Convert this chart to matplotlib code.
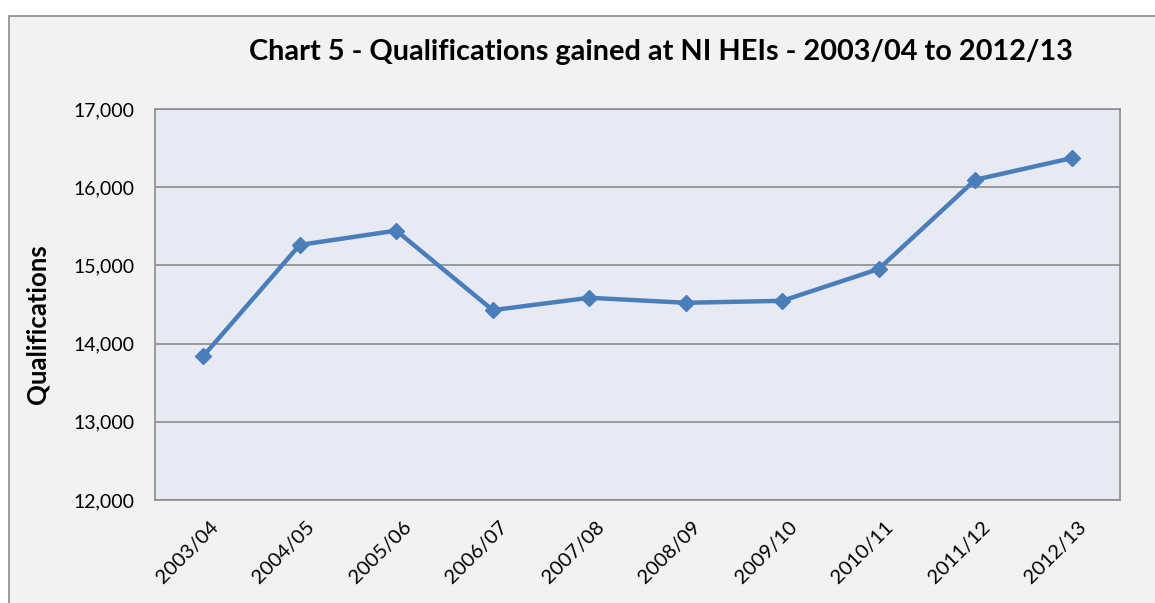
import matplotlib.pyplot as plt
import matplotlib.transforms as mtransforms
from matplotlib.patches import Rectangle
from matplotlib.ticker import FuncFormatter

years = ['2003/04', '2004/05', '2005/06', '2006/07', '2007/08',
         '2008/09', '2009/10', '2010/11', '2011/12', '2012/13']
qualifications = [13840, 15262, 15445, 14428, 14586, 14522, 14547, 14954, 16095, 16372]
yticks = [12000, 13000, 14000, 15000, 16000, 17000]

plt.rcParams['font.family'] = ['Lato', 'DejaVu Sans']

fig = plt.figure(figsize=(11.55, 6.03), dpi=100)
fig.patch.set_facecolor('white')
# outer chart frame
fig.patches.append(Rectangle((9 / 1155, -0.05), 1.2, 1 - 16 / 603 + 0.05,
                             transform=fig.transFigure, facecolor='#f2f2f2',
                             edgecolor='#8c8c8c', linewidth=1.2, zorder=-10))

ax = fig.add_axes([155 / 1155, 1 - 500 / 603, 965 / 1155, 391 / 603])
ax.set_facecolor('#e7eaf2')
x = range(len(years))
ax.plot(x, qualifications, color='#4a7ebb', linewidth=3.2, marker='D', markersize=8.5, zorder=3)

ax.set_xlim(-0.5, len(years) - 0.5)
ax.set_ylim(12000, 17000)
ax.set_yticks(yticks)
ax.yaxis.set_major_formatter(FuncFormatter(lambda v, p: f'{int(v):,}'))
ax.set_xticks(list(x))
ax.set_xticklabels(years, rotation=45, ha='right', rotation_mode='anchor')
ax.grid(axis='y', color='#8c8c8c', linewidth=1.2)
ax.set_axisbelow(True)
ax.tick_params(length=0, labelsize=14)
ax.tick_params(axis='y', pad=15)
ax.tick_params(axis='x', pad=13, labelsize=14.5)
shift = mtransforms.ScaledTranslation(6 / 100, 0, fig.dpi_scale_trans)
for lbl in ax.get_xticklabels():
    lbl.set_transform(lbl.get_transform() + shift)
for s in ax.spines.values():
    s.set_color('#8c8c8c')
    s.set_linewidth(1.2)

ax.set_ylabel('Qualifications', fontsize=18.5, fontweight='bold', va='center')
ax.yaxis.set_label_coords(-0.122, 0.45)
fig.text(661 / 1155, 1 - 52 / 603, 'Chart 5 - Qualifications gained at NI HEIs - 2003/04 to 2012/13',
         ha='center', va='center', fontsize=20.8, fontweight='bold')

fig.savefig('out.png', dpi=100, facecolor=fig.get_facecolor())
